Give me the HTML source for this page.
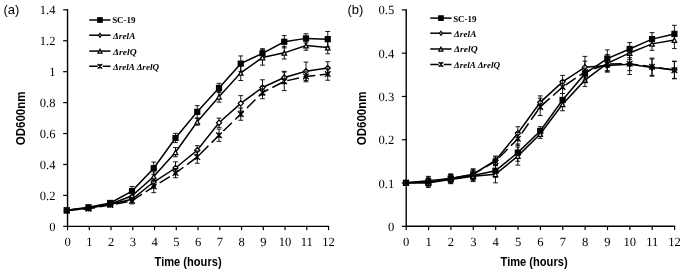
<!DOCTYPE html>
<html lang="en">
<head>
<meta charset="utf-8">
<title>Growth curves</title>
<style>
html,body{margin:0;padding:0;background:#fff;}
body{width:685px;height:272px;overflow:hidden;}
svg{display:block;}
.tk{font-family:"Liberation Serif","DejaVu Serif",serif;font-size:12.6px;fill:#000;text-rendering:geometricPrecision;}
.pl{font-family:"Liberation Sans","DejaVu Sans",sans-serif;font-size:13px;fill:#000;}
.at{font-family:"Liberation Sans","DejaVu Sans",sans-serif;font-size:12.2px;font-weight:bold;fill:#000;}
.lg{font-family:"Liberation Serif","DejaVu Serif",serif;font-size:9px;font-weight:bold;fill:#000;}
.it{font-style:italic;}
</style>
</head>
<body>
<svg width="685" height="272" viewBox="0 0 685 272">
<rect width="685" height="272" fill="#fff"/>
<text x="3.5" y="14.2" class="pl">(a)</text>
<path d="M67.55 9.20V226.35H329.15" fill="none" stroke="#000" stroke-width="1.4"/>
<path d="M63.15 226.35H67.55" stroke="#000" stroke-width="1.2"/>
<text transform="translate(55.55 230.85) scale(1 1)" class="tk" text-anchor="end">0</text>
<path d="M63.15 195.41H67.55" stroke="#000" stroke-width="1.2"/>
<text transform="translate(55.55 199.91) scale(1 1)" class="tk" text-anchor="end">0.2</text>
<path d="M63.15 164.48H67.55" stroke="#000" stroke-width="1.2"/>
<text transform="translate(55.55 168.98) scale(1 1)" class="tk" text-anchor="end">0.4</text>
<path d="M63.15 133.54H67.55" stroke="#000" stroke-width="1.2"/>
<text transform="translate(55.55 138.04) scale(1 1)" class="tk" text-anchor="end">0.6</text>
<path d="M63.15 102.61H67.55" stroke="#000" stroke-width="1.2"/>
<text transform="translate(55.55 107.11) scale(1 1)" class="tk" text-anchor="end">0.8</text>
<path d="M63.15 71.67H67.55" stroke="#000" stroke-width="1.2"/>
<text transform="translate(55.55 76.17) scale(1 1)" class="tk" text-anchor="end">1</text>
<path d="M63.15 40.74H67.55" stroke="#000" stroke-width="1.2"/>
<text transform="translate(55.55 45.24) scale(1 1)" class="tk" text-anchor="end">1.2</text>
<path d="M63.15 9.80H67.55" stroke="#000" stroke-width="1.2"/>
<text transform="translate(55.55 14.30) scale(1 1)" class="tk" text-anchor="end">1.4</text>
<path d="M67.55 226.35V230.15" stroke="#000" stroke-width="1.2"/>
<text transform="translate(67.55 246.25) scale(1 1)" class="tk" text-anchor="middle">0</text>
<path d="M89.30 226.35V230.15" stroke="#000" stroke-width="1.2"/>
<text transform="translate(89.30 246.25) scale(1 1)" class="tk" text-anchor="middle">1</text>
<path d="M111.05 226.35V230.15" stroke="#000" stroke-width="1.2"/>
<text transform="translate(111.05 246.25) scale(1 1)" class="tk" text-anchor="middle">2</text>
<path d="M132.80 226.35V230.15" stroke="#000" stroke-width="1.2"/>
<text transform="translate(132.80 246.25) scale(1 1)" class="tk" text-anchor="middle">3</text>
<path d="M154.55 226.35V230.15" stroke="#000" stroke-width="1.2"/>
<text transform="translate(154.55 246.25) scale(1 1)" class="tk" text-anchor="middle">4</text>
<path d="M176.30 226.35V230.15" stroke="#000" stroke-width="1.2"/>
<text transform="translate(176.30 246.25) scale(1 1)" class="tk" text-anchor="middle">5</text>
<path d="M198.05 226.35V230.15" stroke="#000" stroke-width="1.2"/>
<text transform="translate(198.05 246.25) scale(1 1)" class="tk" text-anchor="middle">6</text>
<path d="M219.80 226.35V230.15" stroke="#000" stroke-width="1.2"/>
<text transform="translate(219.80 246.25) scale(1 1)" class="tk" text-anchor="middle">7</text>
<path d="M241.55 226.35V230.15" stroke="#000" stroke-width="1.2"/>
<text transform="translate(241.55 246.25) scale(1 1)" class="tk" text-anchor="middle">8</text>
<path d="M263.30 226.35V230.15" stroke="#000" stroke-width="1.2"/>
<text transform="translate(263.30 246.25) scale(1 1)" class="tk" text-anchor="middle">9</text>
<path d="M285.05 226.35V230.15" stroke="#000" stroke-width="1.2"/>
<text transform="translate(285.05 246.25) scale(1 1)" class="tk" text-anchor="middle">10</text>
<path d="M306.80 226.35V230.15" stroke="#000" stroke-width="1.2"/>
<text transform="translate(306.80 246.25) scale(1 1)" class="tk" text-anchor="middle">11</text>
<path d="M328.55 226.35V230.15" stroke="#000" stroke-width="1.2"/>
<text transform="translate(328.55 246.25) scale(1 1)" class="tk" text-anchor="middle">12</text>
<text x="154.60" y="266" class="at" textLength="67" lengthAdjust="spacingAndGlyphs">Time (hours)</text>
<text transform="translate(24.5 145.30) rotate(-90)" class="at" textLength="53.8" lengthAdjust="spacingAndGlyphs">OD600nm</text>
<polyline points="66.75,210.35 88.50,207.27 110.25,202.96 132.00,191.11 153.75,168.17 175.50,137.99 197.25,111.82 219.00,87.95 240.75,63.63 262.50,53.31 284.25,41.76 306.00,38.38 327.75,39.15" fill="none" stroke="#000" stroke-width="1.5"/>
<path d="M88.50 205.73V208.81M86.10 205.73H90.90M86.10 208.81H90.90M110.25 200.65V205.27M107.85 200.65H112.65M107.85 205.27H112.65M132.00 186.49V195.73M129.60 186.49H134.40M129.60 195.73H134.40M153.75 162.01V174.33M151.35 162.01H156.15M151.35 174.33H156.15M175.50 133.37V142.61M173.10 133.37H177.90M173.10 142.61H177.90M197.25 105.66V117.97M194.85 105.66H199.65M194.85 117.97H199.65M219.00 83.33V92.57M216.60 83.33H221.40M216.60 92.57H221.40M240.75 55.93V71.32M238.35 55.93H243.15M238.35 71.32H243.15M262.50 48.69V57.93M260.10 48.69H264.90M260.10 57.93H264.90M284.25 35.60V47.92M281.85 35.60H286.65M281.85 47.92H286.65M306.00 33.76V42.99M303.60 33.76H308.40M303.60 42.99H308.40M327.75 31.45V46.84M325.35 31.45H330.15M325.35 46.84H330.15" fill="none" stroke="#000" stroke-width="0.9"/>
<rect x="63.65" y="207.25" width="6.2" height="6.2" fill="#000"/>
<rect x="85.40" y="204.17" width="6.2" height="6.2" fill="#000"/>
<rect x="107.15" y="199.86" width="6.2" height="6.2" fill="#000"/>
<rect x="128.90" y="188.01" width="6.2" height="6.2" fill="#000"/>
<rect x="150.65" y="165.07" width="6.2" height="6.2" fill="#000"/>
<rect x="172.40" y="134.89" width="6.2" height="6.2" fill="#000"/>
<rect x="194.15" y="108.72" width="6.2" height="6.2" fill="#000"/>
<rect x="215.90" y="84.85" width="6.2" height="6.2" fill="#000"/>
<rect x="237.65" y="60.53" width="6.2" height="6.2" fill="#000"/>
<rect x="259.40" y="50.21" width="6.2" height="6.2" fill="#000"/>
<rect x="281.15" y="38.66" width="6.2" height="6.2" fill="#000"/>
<rect x="302.90" y="35.28" width="6.2" height="6.2" fill="#000"/>
<rect x="324.65" y="36.05" width="6.2" height="6.2" fill="#000"/>
<polyline points="66.75,210.35 88.50,208.04 110.25,204.19 132.00,199.27 153.75,182.02 175.50,168.01 197.25,150.31 219.00,122.75 240.75,103.35 262.50,87.49 284.25,77.48 306.00,71.32 327.75,67.94" fill="none" stroke="#000" stroke-width="1.5"/>
<path d="M88.50 206.50V209.58M86.10 206.50H90.90M86.10 209.58H90.90M110.25 202.66V205.73M107.85 202.66H112.65M107.85 205.73H112.65M132.00 196.19V202.35M129.60 196.19H134.40M129.60 202.35H134.40M153.75 177.41V186.64M151.35 177.41H156.15M151.35 186.64H156.15M175.50 161.85V174.17M173.10 161.85H177.90M173.10 174.17H177.90M197.25 145.69V154.93M194.85 145.69H199.65M194.85 154.93H199.65M219.00 118.13V127.37M216.60 118.13H221.40M216.60 127.37H221.40M240.75 95.65V111.05M238.35 95.65H243.15M238.35 111.05H243.15M262.50 79.79V95.19M260.10 79.79H264.90M260.10 95.19H264.90M284.25 71.32V83.64M281.85 71.32H286.65M281.85 83.64H286.65M306.00 62.09V80.56M303.60 62.09H308.40M303.60 80.56H308.40M327.75 61.78V74.10M325.35 61.78H330.15M325.35 74.10H330.15" fill="none" stroke="#000" stroke-width="0.9"/>
<path d="M66.75 207.75L69.35 210.35L66.75 212.95L64.15 210.35Z" fill="#fff" stroke="#000" stroke-width="1.2"/>
<path d="M88.50 205.44L91.10 208.04L88.50 210.64L85.90 208.04Z" fill="#fff" stroke="#000" stroke-width="1.2"/>
<path d="M110.25 201.59L112.85 204.19L110.25 206.79L107.65 204.19Z" fill="#fff" stroke="#000" stroke-width="1.2"/>
<path d="M132.00 196.67L134.60 199.27L132.00 201.87L129.40 199.27Z" fill="#fff" stroke="#000" stroke-width="1.2"/>
<path d="M153.75 179.42L156.35 182.02L153.75 184.62L151.15 182.02Z" fill="#fff" stroke="#000" stroke-width="1.2"/>
<path d="M175.50 165.41L178.10 168.01L175.50 170.61L172.90 168.01Z" fill="#fff" stroke="#000" stroke-width="1.2"/>
<path d="M197.25 147.71L199.85 150.31L197.25 152.91L194.65 150.31Z" fill="#fff" stroke="#000" stroke-width="1.2"/>
<path d="M219.00 120.15L221.60 122.75L219.00 125.35L216.40 122.75Z" fill="#fff" stroke="#000" stroke-width="1.2"/>
<path d="M240.75 100.75L243.35 103.35L240.75 105.95L238.15 103.35Z" fill="#fff" stroke="#000" stroke-width="1.2"/>
<path d="M262.50 84.89L265.10 87.49L262.50 90.09L259.90 87.49Z" fill="#fff" stroke="#000" stroke-width="1.2"/>
<path d="M284.25 74.88L286.85 77.48L284.25 80.08L281.65 77.48Z" fill="#fff" stroke="#000" stroke-width="1.2"/>
<path d="M306.00 68.72L308.60 71.32L306.00 73.92L303.40 71.32Z" fill="#fff" stroke="#000" stroke-width="1.2"/>
<path d="M327.75 65.34L330.35 67.94L327.75 70.54L325.15 67.94Z" fill="#fff" stroke="#000" stroke-width="1.2"/>
<polyline points="66.75,210.35 88.50,208.04 110.25,204.19 132.00,195.73 153.75,176.48 175.50,152.16 197.25,121.82 219.00,96.73 240.75,72.86 262.50,57.47 284.25,52.85 306.00,45.61 327.75,47.61" fill="none" stroke="#000" stroke-width="1.5"/>
<path d="M88.50 206.50V209.58M86.10 206.50H90.90M86.10 209.58H90.90M110.25 202.66V205.73M107.85 202.66H112.65M107.85 205.73H112.65M132.00 192.65V198.81M129.60 192.65H134.40M129.60 198.81H134.40M153.75 171.86V181.10M151.35 171.86H156.15M151.35 181.10H156.15M175.50 147.54V156.77M173.10 147.54H177.90M173.10 156.77H177.90M197.25 118.44V125.21M194.85 118.44H199.65M194.85 125.21H199.65M219.00 91.34V102.12M216.60 91.34H221.40M216.60 102.12H221.40M240.75 65.17V80.56M238.35 65.17H243.15M238.35 80.56H243.15M262.50 49.77V65.17M260.10 49.77H264.90M260.10 65.17H264.90M284.25 46.69V59.01M281.85 46.69H286.65M281.85 59.01H286.65M306.00 40.99V50.23M303.60 40.99H308.40M303.60 50.23H308.40M327.75 41.45V53.77M325.35 41.45H330.15M325.35 53.77H330.15" fill="none" stroke="#000" stroke-width="0.9"/>
<path d="M66.75 208.35L69.00 212.70L64.50 212.70Z" fill="#fff" stroke="#000" stroke-width="1.25"/>
<path d="M88.50 206.04L90.75 210.39L86.25 210.39Z" fill="#fff" stroke="#000" stroke-width="1.25"/>
<path d="M110.25 202.19L112.50 206.54L108.00 206.54Z" fill="#fff" stroke="#000" stroke-width="1.25"/>
<path d="M132.00 193.73L134.25 198.08L129.75 198.08Z" fill="#fff" stroke="#000" stroke-width="1.25"/>
<path d="M153.75 174.48L156.00 178.83L151.50 178.83Z" fill="#fff" stroke="#000" stroke-width="1.25"/>
<path d="M175.50 150.16L177.75 154.51L173.25 154.51Z" fill="#fff" stroke="#000" stroke-width="1.25"/>
<path d="M197.25 119.82L199.50 124.17L195.00 124.17Z" fill="#fff" stroke="#000" stroke-width="1.25"/>
<path d="M219.00 94.73L221.25 99.08L216.75 99.08Z" fill="#fff" stroke="#000" stroke-width="1.25"/>
<path d="M240.75 70.86L243.00 75.21L238.50 75.21Z" fill="#fff" stroke="#000" stroke-width="1.25"/>
<path d="M262.50 55.47L264.75 59.82L260.25 59.82Z" fill="#fff" stroke="#000" stroke-width="1.25"/>
<path d="M284.25 50.85L286.50 55.20L282.00 55.20Z" fill="#fff" stroke="#000" stroke-width="1.25"/>
<path d="M306.00 43.61L308.25 47.96L303.75 47.96Z" fill="#fff" stroke="#000" stroke-width="1.25"/>
<path d="M327.75 45.61L330.00 49.96L325.50 49.96Z" fill="#fff" stroke="#000" stroke-width="1.25"/>
<polyline points="66.75,210.35 88.50,208.81 110.25,204.96 132.00,200.81 153.75,186.49 175.50,173.09 197.25,157.08 219.00,135.22 240.75,114.13 262.50,92.57 284.25,81.33 306.00,76.40 327.75,74.10" fill="none" stroke="#000" stroke-width="1.5" stroke-dasharray="12 4.5"/>
<path d="M88.50 207.27V210.35M86.10 207.27H90.90M86.10 210.35H90.90M110.25 203.43V206.50M107.85 203.43H112.65M107.85 206.50H112.65M132.00 197.73V203.89M129.60 197.73H134.40M129.60 203.89H134.40M153.75 180.33V192.65M151.35 180.33H156.15M151.35 192.65H156.15M175.50 168.48V177.71M173.10 168.48H177.90M173.10 177.71H177.90M197.25 150.92V163.24M194.85 150.92H199.65M194.85 163.24H199.65M219.00 129.06V141.38M216.60 129.06H221.40M216.60 141.38H221.40M240.75 107.97V120.28M238.35 107.97H243.15M238.35 120.28H243.15M262.50 86.41V98.73M260.10 86.41H264.90M260.10 98.73H264.90M284.25 72.09V90.57M281.85 72.09H286.65M281.85 90.57H286.65M306.00 71.02V81.79M303.60 71.02H308.40M303.60 81.79H308.40M327.75 67.94V80.25M325.35 67.94H330.15M325.35 80.25H330.15" fill="none" stroke="#000" stroke-width="0.9"/>
<path d="M63.95 207.55L69.55 213.15M69.55 207.55L63.95 213.15M66.75 207.55L66.75 213.15" fill="none" stroke="#000" stroke-width="1.3"/>
<path d="M85.70 206.01L91.30 211.61M91.30 206.01L85.70 211.61M88.50 206.01L88.50 211.61" fill="none" stroke="#000" stroke-width="1.3"/>
<path d="M107.45 202.16L113.05 207.76M113.05 202.16L107.45 207.76M110.25 202.16L110.25 207.76" fill="none" stroke="#000" stroke-width="1.3"/>
<path d="M129.20 198.01L134.80 203.61M134.80 198.01L129.20 203.61M132.00 198.01L132.00 203.61" fill="none" stroke="#000" stroke-width="1.3"/>
<path d="M150.95 183.69L156.55 189.29M156.55 183.69L150.95 189.29M153.75 183.69L153.75 189.29" fill="none" stroke="#000" stroke-width="1.3"/>
<path d="M172.70 170.29L178.30 175.89M178.30 170.29L172.70 175.89M175.50 170.29L175.50 175.89" fill="none" stroke="#000" stroke-width="1.3"/>
<path d="M194.45 154.28L200.05 159.88M200.05 154.28L194.45 159.88M197.25 154.28L197.25 159.88" fill="none" stroke="#000" stroke-width="1.3"/>
<path d="M216.20 132.42L221.80 138.02M221.80 132.42L216.20 138.02M219.00 132.42L219.00 138.02" fill="none" stroke="#000" stroke-width="1.3"/>
<path d="M237.95 111.33L243.55 116.93M243.55 111.33L237.95 116.93M240.75 111.33L240.75 116.93" fill="none" stroke="#000" stroke-width="1.3"/>
<path d="M259.70 89.77L265.30 95.37M265.30 89.77L259.70 95.37M262.50 89.77L262.50 95.37" fill="none" stroke="#000" stroke-width="1.3"/>
<path d="M281.45 78.53L287.05 84.13M287.05 78.53L281.45 84.13M284.25 78.53L284.25 84.13" fill="none" stroke="#000" stroke-width="1.3"/>
<path d="M303.20 73.60L308.80 79.20M308.80 73.60L303.20 79.20M306.00 73.60L306.00 79.20" fill="none" stroke="#000" stroke-width="1.3"/>
<path d="M324.95 71.30L330.55 76.90M330.55 71.30L324.95 76.90M327.75 71.30L327.75 76.90" fill="none" stroke="#000" stroke-width="1.3"/>
<path d="M89.25 20.00H110.50" stroke="#000" stroke-width="1.5"/>
<rect x="97.10" y="17.15" width="5.7" height="5.7" fill="#000"/>
<text x="112.15" y="23.40" class="lg" textLength="23.4" lengthAdjust="spacingAndGlyphs">SC-19</text>
<path d="M89.25 35.20H110.50" stroke="#000" stroke-width="1.5"/>
<path d="M99.95 33.25L101.40 35.20L99.95 37.15L98.50 35.20Z" fill="#fff" stroke="#000" stroke-width="1.2"/>
<text x="113.05" y="38.60" class="lg it" textLength="22.3" lengthAdjust="spacingAndGlyphs">ΔrelA</text>
<path d="M89.25 51.10H110.50" stroke="#000" stroke-width="1.5"/>
<path d="M99.95 49.30L101.95 53.20L97.95 53.20Z" fill="#fff" stroke="#000" stroke-width="1.25"/>
<text x="113.05" y="54.50" class="lg it" textLength="23.5" lengthAdjust="spacingAndGlyphs">ΔrelQ</text>
<path d="M89.25 66.30h8.5m5 0h7.75" stroke="#000" stroke-width="1.5"/>
<path d="M97.65 64.00L102.25 68.60M102.25 64.00L97.65 68.60M99.95 64.00L99.95 68.60" fill="none" stroke="#000" stroke-width="1.3"/>
<text x="113.05" y="69.70" class="lg it" textLength="46" lengthAdjust="spacingAndGlyphs">ΔrelA ΔrelQ</text>
<text x="347.5" y="14.2" class="pl">(b)</text>
<path d="M406.20 9.30V226.30H675.20" fill="none" stroke="#000" stroke-width="1.4"/>
<path d="M401.80 226.30H406.20" stroke="#000" stroke-width="1.2"/>
<text transform="translate(394.20 230.80) scale(1 1)" class="tk" text-anchor="end">0</text>
<path d="M401.80 183.02H406.20" stroke="#000" stroke-width="1.2"/>
<text transform="translate(394.20 187.52) scale(1 1)" class="tk" text-anchor="end">0.1</text>
<path d="M401.80 139.74H406.20" stroke="#000" stroke-width="1.2"/>
<text transform="translate(394.20 144.24) scale(1 1)" class="tk" text-anchor="end">0.2</text>
<path d="M401.80 96.46H406.20" stroke="#000" stroke-width="1.2"/>
<text transform="translate(394.20 100.96) scale(1 1)" class="tk" text-anchor="end">0.3</text>
<path d="M401.80 53.18H406.20" stroke="#000" stroke-width="1.2"/>
<text transform="translate(394.20 57.68) scale(1 1)" class="tk" text-anchor="end">0.4</text>
<path d="M401.80 9.90H406.20" stroke="#000" stroke-width="1.2"/>
<text transform="translate(394.20 14.40) scale(1 1)" class="tk" text-anchor="end">0.5</text>
<path d="M406.20 226.30V230.10" stroke="#000" stroke-width="1.2"/>
<text transform="translate(406.20 246.20) scale(1 1)" class="tk" text-anchor="middle">0</text>
<path d="M428.57 226.30V230.10" stroke="#000" stroke-width="1.2"/>
<text transform="translate(428.57 246.20) scale(1 1)" class="tk" text-anchor="middle">1</text>
<path d="M450.93 226.30V230.10" stroke="#000" stroke-width="1.2"/>
<text transform="translate(450.93 246.20) scale(1 1)" class="tk" text-anchor="middle">2</text>
<path d="M473.30 226.30V230.10" stroke="#000" stroke-width="1.2"/>
<text transform="translate(473.30 246.20) scale(1 1)" class="tk" text-anchor="middle">3</text>
<path d="M495.67 226.30V230.10" stroke="#000" stroke-width="1.2"/>
<text transform="translate(495.67 246.20) scale(1 1)" class="tk" text-anchor="middle">4</text>
<path d="M518.03 226.30V230.10" stroke="#000" stroke-width="1.2"/>
<text transform="translate(518.03 246.20) scale(1 1)" class="tk" text-anchor="middle">5</text>
<path d="M540.40 226.30V230.10" stroke="#000" stroke-width="1.2"/>
<text transform="translate(540.40 246.20) scale(1 1)" class="tk" text-anchor="middle">6</text>
<path d="M562.77 226.30V230.10" stroke="#000" stroke-width="1.2"/>
<text transform="translate(562.77 246.20) scale(1 1)" class="tk" text-anchor="middle">7</text>
<path d="M585.13 226.30V230.10" stroke="#000" stroke-width="1.2"/>
<text transform="translate(585.13 246.20) scale(1 1)" class="tk" text-anchor="middle">8</text>
<path d="M607.50 226.30V230.10" stroke="#000" stroke-width="1.2"/>
<text transform="translate(607.50 246.20) scale(1 1)" class="tk" text-anchor="middle">9</text>
<path d="M629.87 226.30V230.10" stroke="#000" stroke-width="1.2"/>
<text transform="translate(629.87 246.20) scale(1 1)" class="tk" text-anchor="middle">10</text>
<path d="M652.23 226.30V230.10" stroke="#000" stroke-width="1.2"/>
<text transform="translate(652.23 246.20) scale(1 1)" class="tk" text-anchor="middle">11</text>
<path d="M674.60 226.30V230.10" stroke="#000" stroke-width="1.2"/>
<text transform="translate(674.60 246.20) scale(1 1)" class="tk" text-anchor="middle">12</text>
<text x="500.60" y="266" class="at" textLength="67" lengthAdjust="spacingAndGlyphs">Time (hours)</text>
<text transform="translate(366 145.30) rotate(-90)" class="at" textLength="53.8" lengthAdjust="spacingAndGlyphs">OD600nm</text>
<polyline points="406.00,182.84 428.37,182.84 450.73,178.52 473.10,175.50 495.47,170.76 517.83,152.63 540.20,131.05 562.57,99.97 584.93,73.65 607.30,58.54 629.67,49.04 652.03,39.12 674.40,33.94" fill="none" stroke="#000" stroke-width="1.5"/>
<path d="M428.37 178.52V187.16M425.97 178.52H430.77M425.97 187.16H430.77M450.73 174.21V182.84M448.33 174.21H453.13M448.33 182.84H453.13M473.10 170.32V180.68M470.70 170.32H475.50M470.70 180.68H475.50M495.47 164.28V177.23M493.07 164.28H497.87M493.07 177.23H497.87M517.83 144.00V161.26M515.43 144.00H520.23M515.43 161.26H520.23M540.20 126.73V135.36M537.80 126.73H542.60M537.80 135.36H542.60M562.57 93.50V106.45M560.17 93.50H564.97M560.17 106.45H564.97M584.93 67.17V80.12M582.53 67.17H587.33M582.53 80.12H587.33M607.30 49.91V67.17M604.90 49.91H609.70M604.90 67.17H609.70M629.67 42.57V55.52M627.27 42.57H632.07M627.27 55.52H632.07M652.03 32.64V45.59M649.63 32.64H654.43M649.63 45.59H654.43M674.40 25.31V42.57M672.00 25.31H676.80M672.00 42.57H676.80" fill="none" stroke="#000" stroke-width="0.9"/>
<rect x="402.90" y="179.74" width="6.2" height="6.2" fill="#000"/>
<rect x="425.27" y="179.74" width="6.2" height="6.2" fill="#000"/>
<rect x="447.63" y="175.42" width="6.2" height="6.2" fill="#000"/>
<rect x="470.00" y="172.40" width="6.2" height="6.2" fill="#000"/>
<rect x="492.37" y="167.66" width="6.2" height="6.2" fill="#000"/>
<rect x="514.73" y="149.53" width="6.2" height="6.2" fill="#000"/>
<rect x="537.10" y="127.95" width="6.2" height="6.2" fill="#000"/>
<rect x="559.47" y="96.87" width="6.2" height="6.2" fill="#000"/>
<rect x="581.83" y="70.55" width="6.2" height="6.2" fill="#000"/>
<rect x="604.20" y="55.44" width="6.2" height="6.2" fill="#000"/>
<rect x="626.57" y="45.94" width="6.2" height="6.2" fill="#000"/>
<rect x="648.93" y="36.02" width="6.2" height="6.2" fill="#000"/>
<rect x="671.30" y="30.84" width="6.2" height="6.2" fill="#000"/>
<polyline points="406.00,182.84 428.37,180.68 450.73,178.52 473.10,174.21 495.47,160.40 517.83,133.21 540.20,102.35 562.57,81.85 584.93,67.17 607.30,65.44 629.67,64.15 652.03,67.60 674.40,69.76" fill="none" stroke="#000" stroke-width="1.5"/>
<path d="M428.37 176.37V185.00M425.97 176.37H430.77M425.97 185.00H430.77M450.73 174.21V182.84M448.33 174.21H453.13M448.33 182.84H453.13M473.10 169.03V179.39M470.70 169.03H475.50M470.70 179.39H475.50M495.47 156.08V164.71M493.07 156.08H497.87M493.07 164.71H497.87M517.83 126.73V139.68M515.43 126.73H520.23M515.43 139.68H520.23M540.20 95.87V108.82M537.80 95.87H542.60M537.80 108.82H542.60M562.57 75.37V88.32M560.17 75.37H564.97M560.17 88.32H564.97M584.93 56.38V77.96M582.53 56.38H587.33M582.53 77.96H587.33M607.30 58.97V71.92M604.90 58.97H609.70M604.90 71.92H609.70M629.67 57.68V70.62M627.27 57.68H632.07M627.27 70.62H632.07M652.03 58.97V76.23M649.63 58.97H654.43M649.63 76.23H654.43M674.40 61.13V78.39M672.00 61.13H676.80M672.00 78.39H676.80" fill="none" stroke="#000" stroke-width="0.9"/>
<path d="M406.00 180.24L408.60 182.84L406.00 185.44L403.40 182.84Z" fill="#fff" stroke="#000" stroke-width="1.2"/>
<path d="M428.37 178.08L430.97 180.68L428.37 183.28L425.77 180.68Z" fill="#fff" stroke="#000" stroke-width="1.2"/>
<path d="M450.73 175.92L453.33 178.52L450.73 181.12L448.13 178.52Z" fill="#fff" stroke="#000" stroke-width="1.2"/>
<path d="M473.10 171.61L475.70 174.21L473.10 176.81L470.50 174.21Z" fill="#fff" stroke="#000" stroke-width="1.2"/>
<path d="M495.47 157.80L498.07 160.40L495.47 163.00L492.87 160.40Z" fill="#fff" stroke="#000" stroke-width="1.2"/>
<path d="M517.83 130.61L520.43 133.21L517.83 135.81L515.23 133.21Z" fill="#fff" stroke="#000" stroke-width="1.2"/>
<path d="M540.20 99.75L542.80 102.35L540.20 104.95L537.60 102.35Z" fill="#fff" stroke="#000" stroke-width="1.2"/>
<path d="M562.57 79.25L565.17 81.85L562.57 84.45L559.97 81.85Z" fill="#fff" stroke="#000" stroke-width="1.2"/>
<path d="M584.93 64.57L587.53 67.17L584.93 69.77L582.33 67.17Z" fill="#fff" stroke="#000" stroke-width="1.2"/>
<path d="M607.30 62.84L609.90 65.44L607.30 68.04L604.70 65.44Z" fill="#fff" stroke="#000" stroke-width="1.2"/>
<path d="M629.67 61.55L632.27 64.15L629.67 66.75L627.07 64.15Z" fill="#fff" stroke="#000" stroke-width="1.2"/>
<path d="M652.03 65.00L654.63 67.60L652.03 70.20L649.43 67.60Z" fill="#fff" stroke="#000" stroke-width="1.2"/>
<path d="M674.40 67.16L677.00 69.76L674.40 72.36L671.80 69.76Z" fill="#fff" stroke="#000" stroke-width="1.2"/>
<polyline points="406.00,182.84 428.37,182.84 450.73,179.39 473.10,176.37 495.47,174.21 517.83,156.08 540.20,134.07 562.57,104.29 584.93,80.12 607.30,63.29 629.67,52.93 652.03,43.86 674.40,39.98" fill="none" stroke="#000" stroke-width="1.5"/>
<path d="M428.37 178.52V187.16M425.97 178.52H430.77M425.97 187.16H430.77M450.73 175.07V183.70M448.33 175.07H453.13M448.33 183.70H453.13M473.10 171.19V181.55M470.70 171.19H475.50M470.70 181.55H475.50M495.47 165.58V182.84M493.07 165.58H497.87M493.07 182.84H497.87M517.83 147.02V165.14M515.43 147.02H520.23M515.43 165.14H520.23M540.20 129.75V138.39M537.80 129.75H542.60M537.80 138.39H542.60M562.57 97.81V110.76M560.17 97.81H564.97M560.17 110.76H564.97M584.93 73.65V86.59M582.53 73.65H587.33M582.53 86.59H587.33M607.30 54.65V71.92M604.90 54.65H609.70M604.90 71.92H609.70M629.67 46.45V59.40M627.27 46.45H632.07M627.27 59.40H632.07M652.03 37.39V50.34M649.63 37.39H654.43M649.63 50.34H654.43M674.40 31.35V48.61M672.00 31.35H676.80M672.00 48.61H676.80" fill="none" stroke="#000" stroke-width="0.9"/>
<path d="M406.00 180.84L408.25 185.19L403.75 185.19Z" fill="#fff" stroke="#000" stroke-width="1.25"/>
<path d="M428.37 180.84L430.62 185.19L426.12 185.19Z" fill="#fff" stroke="#000" stroke-width="1.25"/>
<path d="M450.73 177.39L452.98 181.74L448.48 181.74Z" fill="#fff" stroke="#000" stroke-width="1.25"/>
<path d="M473.10 174.37L475.35 178.72L470.85 178.72Z" fill="#fff" stroke="#000" stroke-width="1.25"/>
<path d="M495.47 172.21L497.72 176.56L493.22 176.56Z" fill="#fff" stroke="#000" stroke-width="1.25"/>
<path d="M517.83 154.08L520.08 158.43L515.58 158.43Z" fill="#fff" stroke="#000" stroke-width="1.25"/>
<path d="M540.20 132.07L542.45 136.42L537.95 136.42Z" fill="#fff" stroke="#000" stroke-width="1.25"/>
<path d="M562.57 102.29L564.82 106.64L560.32 106.64Z" fill="#fff" stroke="#000" stroke-width="1.25"/>
<path d="M584.93 78.12L587.18 82.47L582.68 82.47Z" fill="#fff" stroke="#000" stroke-width="1.25"/>
<path d="M607.30 61.29L609.55 65.64L605.05 65.64Z" fill="#fff" stroke="#000" stroke-width="1.25"/>
<path d="M629.67 50.93L631.92 55.28L627.42 55.28Z" fill="#fff" stroke="#000" stroke-width="1.25"/>
<path d="M652.03 41.86L654.28 46.21L649.78 46.21Z" fill="#fff" stroke="#000" stroke-width="1.25"/>
<path d="M674.40 37.98L676.65 42.33L672.15 42.33Z" fill="#fff" stroke="#000" stroke-width="1.25"/>
<polyline points="406.00,182.84 428.37,181.55 450.73,178.52 473.10,174.21 495.47,161.26 517.83,138.82 540.20,106.88 562.57,87.02 584.93,71.92 607.30,64.15 629.67,63.72 652.03,66.74 674.40,70.19" fill="none" stroke="#000" stroke-width="1.5" stroke-dasharray="12 4.5"/>
<path d="M428.37 177.23V185.86M425.97 177.23H430.77M425.97 185.86H430.77M450.73 174.21V182.84M448.33 174.21H453.13M448.33 182.84H453.13M473.10 169.03V179.39M470.70 169.03H475.50M470.70 179.39H475.50M495.47 156.94V165.58M493.07 156.94H497.87M493.07 165.58H497.87M517.83 132.34V145.29M515.43 132.34H520.23M515.43 145.29H520.23M540.20 98.25V115.51M537.80 98.25H542.60M537.80 115.51H542.60M562.57 80.55V93.50M560.17 80.55H564.97M560.17 93.50H564.97M584.93 61.13V82.71M582.53 61.13H587.33M582.53 82.71H587.33M607.30 57.68V70.62M604.90 57.68H609.70M604.90 70.62H609.70M629.67 52.93V74.51M627.27 52.93H632.07M627.27 74.51H632.07M652.03 58.11V75.37M649.63 58.11H654.43M649.63 75.37H654.43M674.40 61.56V78.82M672.00 61.56H676.80M672.00 78.82H676.80" fill="none" stroke="#000" stroke-width="0.9"/>
<path d="M403.20 180.04L408.80 185.64M408.80 180.04L403.20 185.64M406.00 180.04L406.00 185.64" fill="none" stroke="#000" stroke-width="1.3"/>
<path d="M425.57 178.75L431.17 184.35M431.17 178.75L425.57 184.35M428.37 178.75L428.37 184.35" fill="none" stroke="#000" stroke-width="1.3"/>
<path d="M447.93 175.72L453.53 181.32M453.53 175.72L447.93 181.32M450.73 175.72L450.73 181.32" fill="none" stroke="#000" stroke-width="1.3"/>
<path d="M470.30 171.41L475.90 177.01M475.90 171.41L470.30 177.01M473.10 171.41L473.10 177.01" fill="none" stroke="#000" stroke-width="1.3"/>
<path d="M492.67 158.46L498.27 164.06M498.27 158.46L492.67 164.06M495.47 158.46L495.47 164.06" fill="none" stroke="#000" stroke-width="1.3"/>
<path d="M515.03 136.02L520.63 141.62M520.63 136.02L515.03 141.62M517.83 136.02L517.83 141.62" fill="none" stroke="#000" stroke-width="1.3"/>
<path d="M537.40 104.08L543.00 109.68M543.00 104.08L537.40 109.68M540.20 104.08L540.20 109.68" fill="none" stroke="#000" stroke-width="1.3"/>
<path d="M559.77 84.22L565.37 89.82M565.37 84.22L559.77 89.82M562.57 84.22L562.57 89.82" fill="none" stroke="#000" stroke-width="1.3"/>
<path d="M582.13 69.12L587.73 74.72M587.73 69.12L582.13 74.72M584.93 69.12L584.93 74.72" fill="none" stroke="#000" stroke-width="1.3"/>
<path d="M604.50 61.35L610.10 66.95M610.10 61.35L604.50 66.95M607.30 61.35L607.30 66.95" fill="none" stroke="#000" stroke-width="1.3"/>
<path d="M626.87 60.92L632.47 66.52M632.47 60.92L626.87 66.52M629.67 60.92L629.67 66.52" fill="none" stroke="#000" stroke-width="1.3"/>
<path d="M649.23 63.94L654.83 69.54M654.83 63.94L649.23 69.54M652.03 63.94L652.03 69.54" fill="none" stroke="#000" stroke-width="1.3"/>
<path d="M671.60 67.39L677.20 72.99M677.20 67.39L671.60 72.99M674.40 67.39L674.40 72.99" fill="none" stroke="#000" stroke-width="1.3"/>
<path d="M430.25 18.10H451.50" stroke="#000" stroke-width="1.5"/>
<rect x="438.10" y="15.25" width="5.7" height="5.7" fill="#000"/>
<text x="453.15" y="21.50" class="lg" textLength="23.4" lengthAdjust="spacingAndGlyphs">SC-19</text>
<path d="M430.25 33.20H451.50" stroke="#000" stroke-width="1.5"/>
<path d="M440.95 31.25L442.40 33.20L440.95 35.15L439.50 33.20Z" fill="#fff" stroke="#000" stroke-width="1.2"/>
<text x="454.05" y="36.60" class="lg it" textLength="22.3" lengthAdjust="spacingAndGlyphs">ΔrelA</text>
<path d="M430.25 49.00H451.50" stroke="#000" stroke-width="1.5"/>
<path d="M440.95 47.20L442.95 51.10L438.95 51.10Z" fill="#fff" stroke="#000" stroke-width="1.25"/>
<text x="454.05" y="52.40" class="lg it" textLength="23.5" lengthAdjust="spacingAndGlyphs">ΔrelQ</text>
<path d="M430.25 64.40h8.5m5 0h7.75" stroke="#000" stroke-width="1.5"/>
<path d="M438.65 62.10L443.25 66.70M443.25 62.10L438.65 66.70M440.95 62.10L440.95 66.70" fill="none" stroke="#000" stroke-width="1.3"/>
<text x="454.05" y="67.80" class="lg it" textLength="46" lengthAdjust="spacingAndGlyphs">ΔrelA ΔrelQ</text>
</svg>
</body>
</html>
